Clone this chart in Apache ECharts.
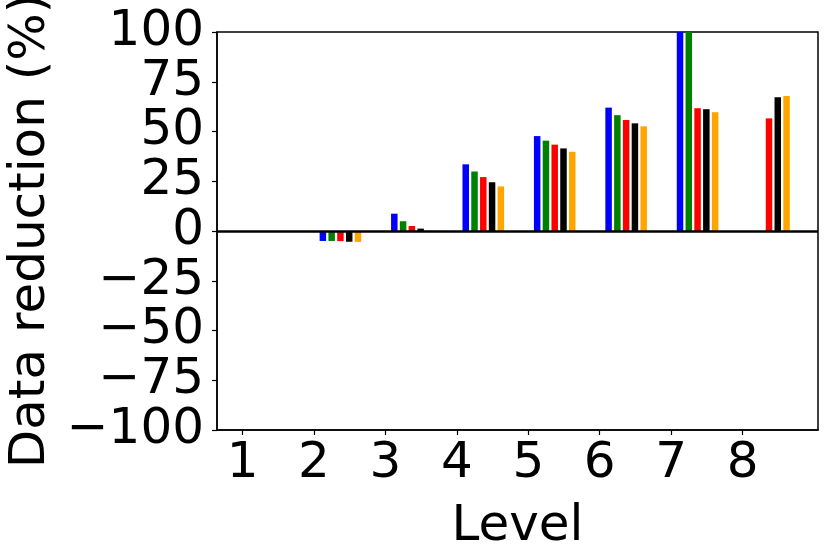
<!DOCTYPE html>
<html>
<head>
<meta charset="utf-8">
<script src="https://cdn.jsdelivr.net/npm/echarts@6/dist/echarts.min.js"></script>
<style>
  html, body { margin: 0; padding: 0; background: #fff; }
  #main { width: 831px; height: 559px; }
</style>
</head>
<body>
<div id="main"></div>
<script>
// levels on the x axis
var levels = [1, 2, 3, 4, 5, 6, 7, 8];
// y tick labels, split in two sets so the big labels are not auto-hidden
var yLabelsA = [-100, -50, 0, 50, 100];
var yLabelsB = [-75, -25, 25, 75];

// data reduction (%) per level, one array per bar colour
var blueVals   = [0, -5.0, 8.7, 33.5, 47.7, 62.0, 100, null];
var greenVals  = [0, -5.0, 4.9, 29.9, 45.4, 58.2, 100, null];
var redVals    = [0, -5.1, 2.5, 27.1, 43.4, 55.8, 61.7, 56.6];
var blackVals  = [0, -5.4, 1.2, 24.5, 41.5, 54.1, 61.2, 67.2];
var orangeVals = [0, -5.5, 0.2, 22.4, 39.8, 52.6, 59.7, 67.9];

var groupShift = 0.37;   // bars sit to the right of each tick
var font = 'DejaVu Sans';
var fs = 50;

function makeSeries(name, color, vals) {
  return {
    name: name,
    type: 'bar',
    barWidth: 6.5,
    barGap: '35%',
    itemStyle: { color: color },
    data: levels.map(function (l, i) { return [l + groupShift, vals[i]]; })
  };
}

function fmt(v) {
  return v < 0 ? '\u2212' + Math.abs(v) : String(v);
}

var chart = echarts.init(document.getElementById('main'));

var series = [
  makeSeries('blue', '#0000ff', blueVals),
  makeSeries('green', '#008000', greenVals),
  makeSeries('red', '#ff0000', redVals),
  makeSeries('black', '#000000', blackVals),
  makeSeries('orange', '#ffa500', orangeVals)
];
// horizontal line at zero
series[0].markLine = {
  silent: true,
  symbol: 'none',
  label: { show: false },
  lineStyle: { color: '#000', width: 2.5, type: 'solid' },
  data: [{ yAxis: 0 }]
};

var yLabelStyle = { fontFamily: font, fontSize: fs, color: '#000', margin: 13, formatter: fmt };

var option = {
  animation: false,
  grid: {
    left: 217, right: 13, top: 32, bottom: 129,
    outerBoundsMode: 'none',
    containLabel: false,
    show: true, borderColor: '#000', borderWidth: 1.5
  },
  xAxis: {
    type: 'value',
    min: 0.642,
    max: 9.056,
    name: 'Level',
    nameLocation: 'middle',
    nameGap: 72,
    nameTextStyle: { fontFamily: font, fontSize: fs, color: '#000' },
    axisLine: { onZero: false, lineStyle: { color: '#000', width: 1.5 } },
    axisTick: { customValues: levels, length: 5, lineStyle: { color: '#000', width: 1.2 } },
    axisLabel: {
      customValues: levels,
      fontFamily: font, fontSize: fs, color: '#000', margin: 9
    },
    splitLine: { show: false }
  },
  yAxis: [
    {
      type: 'value',
      position: 'left',
      min: -100,
      max: 100,
      interval: 25,
      name: 'Data reduction (%)',
      nameLocation: 'middle',
      nameGap: 156,
      nameTextStyle: { fontFamily: font, fontSize: fs, color: '#000' },
      axisLine: { show: true, lineStyle: { color: '#000', width: 1.5 } },
      axisTick: { show: true, length: 5, lineStyle: { color: '#000', width: 1.2 } },
      axisLabel: Object.assign({ customValues: yLabelsA }, yLabelStyle),
      splitLine: { show: false }
    },
    {
      type: 'value',
      position: 'left',
      offset: 0,
      min: -100,
      max: 100,
      interval: 25,
      axisLine: { show: false },
      axisTick: { show: false },
      axisLabel: Object.assign({ customValues: yLabelsB }, yLabelStyle),
      splitLine: { show: false }
    }
  ],
  series: series
};

option && chart.setOption(option);
</script>
</body>
</html>
